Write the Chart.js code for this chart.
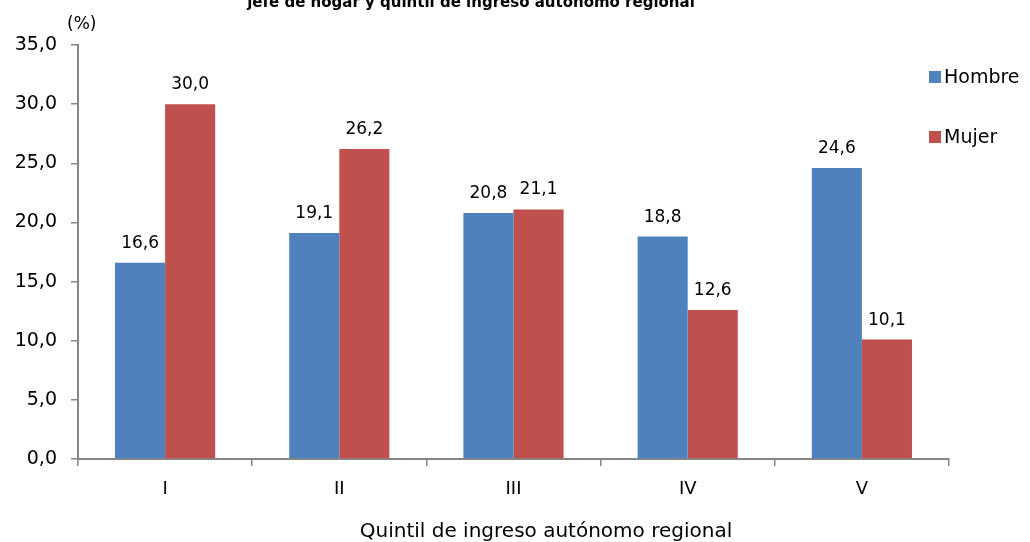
<!DOCTYPE html>
<html>
<head>
<meta charset="utf-8">
<script src="https://cdn.jsdelivr.net/npm/chart.js@4/dist/chart.umd.min.js"></script>
<style>
html,body{margin:0;padding:0;background:#fff;}
#wrap{position:relative;width:1030px;height:542px;}
</style>
</head>
<body>
<div id="wrap"><canvas id="c" width="1030" height="542"></canvas></div>
<script>
const categories = ['I', 'II', 'III', 'IV', 'V'];
const hombre = [16.6, 19.1, 20.8, 18.8, 24.6];
const mujer = [30.0, 26.2, 21.1, 12.6, 10.1];
const seriesNames = ['Hombre', 'Mujer'];
const titleText = 'jefe de hogar y quintil de ingreso autónomo regional';
const xTitle = 'Quintil de ingreso autónomo regional';
const yUnit = '(%)';

const FONT = "'DejaVu Sans', Verdana, sans-serif";
const BLUE = '#4F81BD';
const RED = '#C0504D';
const AXIS = '#868686';

const fmt = v => v.toFixed(1).replace('.', ',');

const extras = {
  id: 'extras',
  afterDatasetsDraw(chart) {
    const ctx = chart.ctx;
    ctx.save();
    ctx.fillStyle = '#000';
    ctx.font = '17px ' + FONT;
    ctx.textAlign = 'center';
    ctx.textBaseline = 'alphabetic';
    chart.data.datasets.forEach((ds, i) => {
      const meta = chart.getDatasetMeta(i);
      meta.data.forEach((bar, j) => {
        ctx.fillText(fmt(ds.data[j]), bar.x, bar.y - 15);
      });
    });
    ctx.restore();
  },
  afterDraw(chart) {
    const ctx = chart.ctx;
    ctx.save();
    // cut-off title
    ctx.fillStyle = '#000';
    ctx.font = 'bold 15px ' + FONT;
    ctx.textAlign = 'center';
    ctx.textBaseline = 'alphabetic';
    ctx.fillText(titleText, 471, 7);
    // y unit
    ctx.font = '17px ' + FONT;
    ctx.textAlign = 'left';
    ctx.fillText(yUnit, 67, 29);
    // x axis title
    ctx.font = '20px ' + FONT;
    ctx.textAlign = 'center';
    ctx.fillText(xTitle, 546, 537);
    // legend
    const colors = [BLUE, RED];
    ctx.font = '19px ' + FONT;
    ctx.textAlign = 'left';
    ctx.textBaseline = 'middle';
    seriesNames.forEach((n, i) => {
      const cy = 77 + i * 60;
      ctx.fillStyle = colors[i];
      ctx.fillRect(929, cy - 6, 12, 12);
      ctx.fillStyle = '#000';
      ctx.fillText(n, 944, cy + 1);
    });
    ctx.restore();
  }
};

new Chart(document.getElementById('c'), {
  type: 'bar',
  data: {
    labels: categories,
    datasets: [
      { label: seriesNames[0], data: hombre, backgroundColor: BLUE, borderWidth: 0 },
      { label: seriesNames[1], data: mujer, backgroundColor: RED, borderWidth: 0 }
    ]
  },
  options: {
    responsive: false,
    animation: false,
    devicePixelRatio: 1,
    layout: { padding: { top: 45, right: 81, left: 0, bottom: 0 } },
    datasets: { bar: { categoryPercentage: 0.575, barPercentage: 1 } },
    plugins: {
      legend: { display: false },
      tooltip: { enabled: false },
      title: { display: false }
    },
    scales: {
      x: {
        grid: { display: true, drawOnChartArea: false, drawTicks: true, tickLength: 7, color: AXIS, lineWidth: 1.5, offset: true },
        border: { display: true, color: AXIS, width: 2 },
        ticks: { color: '#000', font: { family: FONT, size: 18 }, padding: 13 },
        title: { display: false, text: xTitle },
        afterFit(s) { s.height = 83; }
      },
      y: {
        min: 0, max: 35,
        grid: { display: true, drawOnChartArea: false, drawTicks: true, tickLength: 7, color: AXIS, lineWidth: 1.5 },
        border: { display: true, color: AXIS, width: 2 },
        ticks: { stepSize: 5, color: '#000', font: { family: FONT, size: 19 }, padding: 14, callback: v => fmt(v) },
        afterFit(s) { s.width = 78; }
      }
    }
  },
  plugins: [extras]
});
</script>
</body>
</html>
